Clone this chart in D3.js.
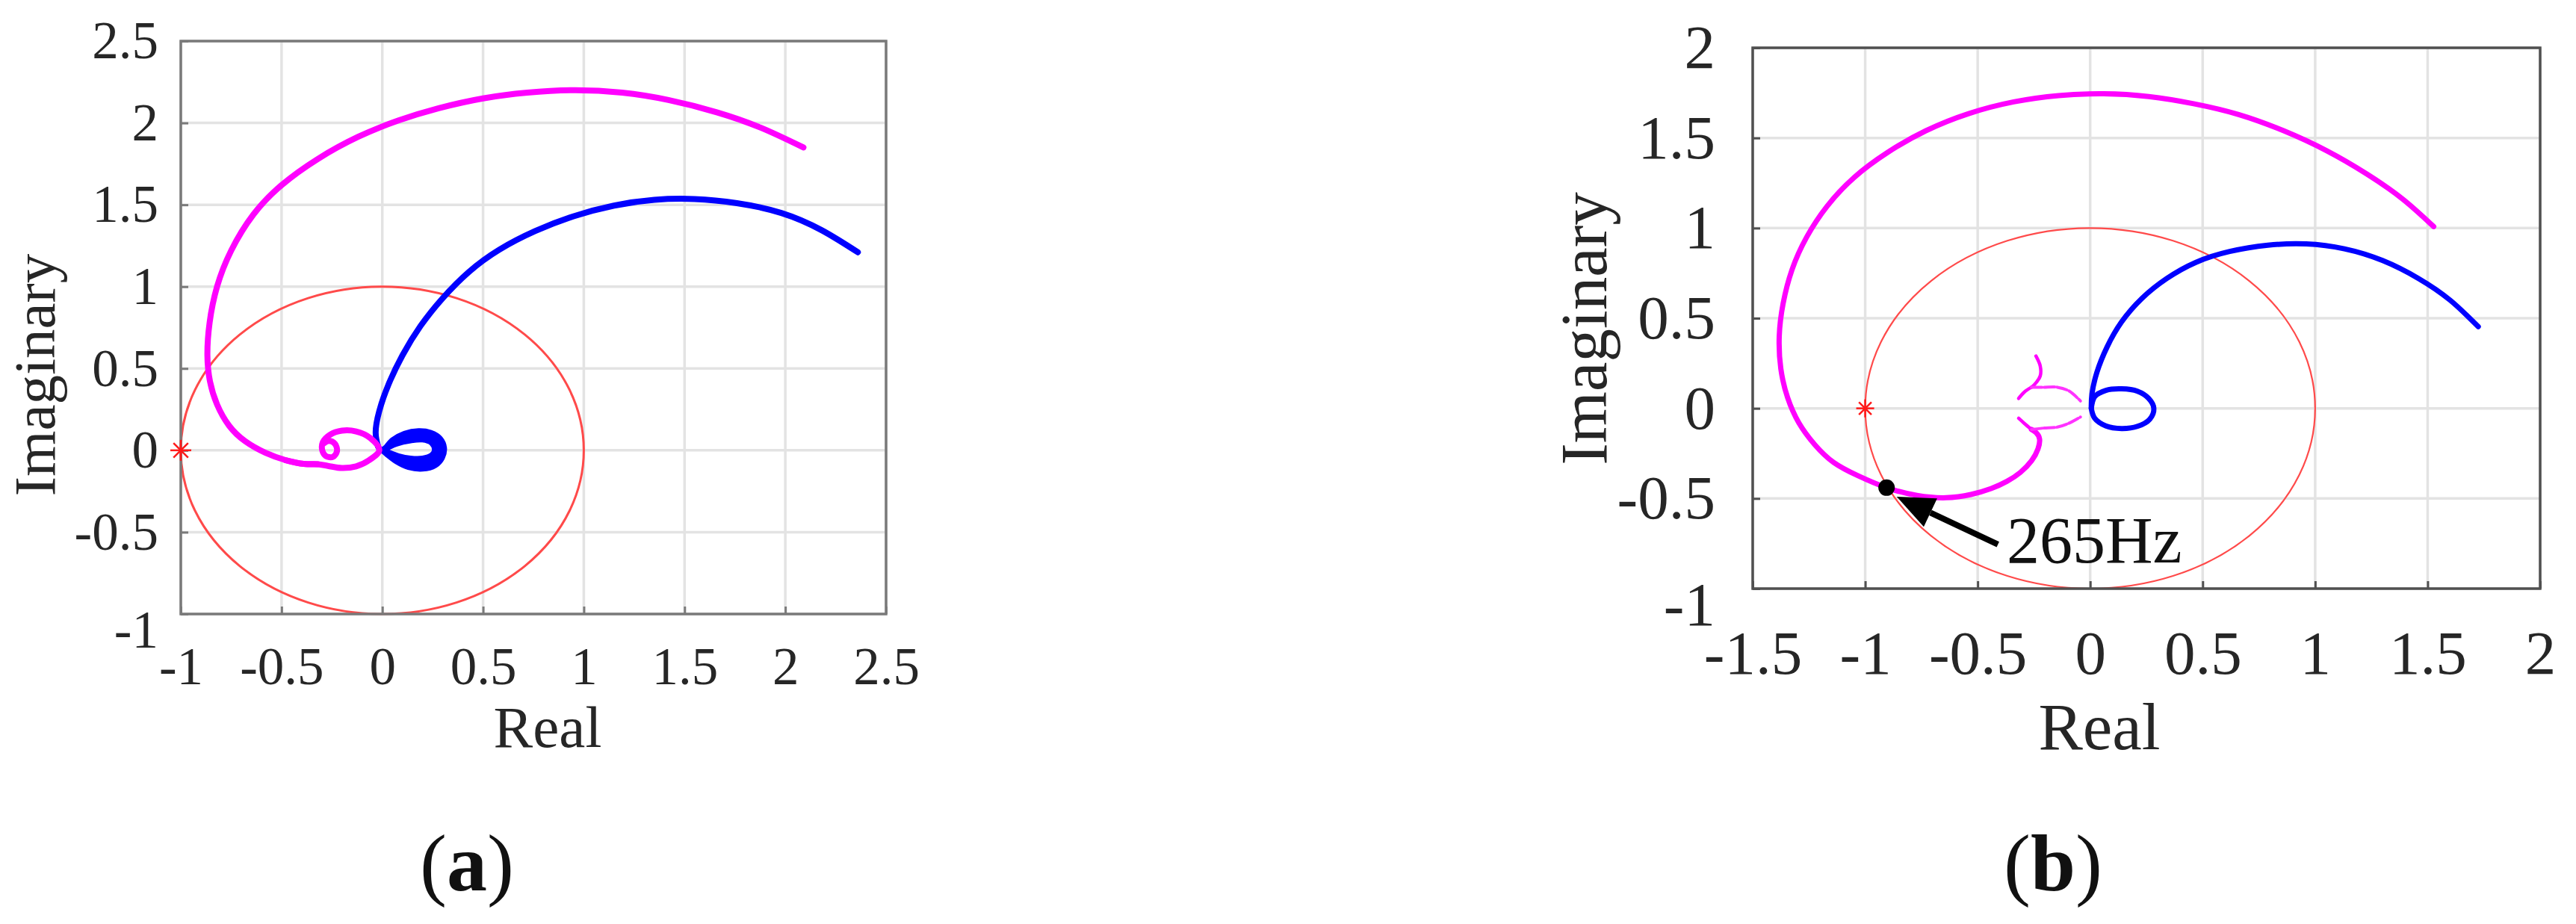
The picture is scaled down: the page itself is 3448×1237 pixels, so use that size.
<!DOCTYPE html>
<html><head><meta charset="utf-8">
<script src="https://cdn.jsdelivr.net/npm/d3@7"></script>
<style>html,body{margin:0;padding:0;background:#fff;}</style>
</head><body>
<svg id="chart" width="3448" height="1237" xmlns="http://www.w3.org/2000/svg"></svg>
<script>
// ---------------- DATA ----------------
const xTicksA = [-1, -0.5, 0, 0.5, 1, 1.5, 2, 2.5];
const yTicksA = [-1, -0.5, 0, 0.5, 1, 1.5, 2, 2.5];
const xTicksB = [-1.5, -1, -0.5, 0, 0.5, 1, 1.5, 2];
const yTicksB = [-1, -0.5, 0, 0.5, 1, 1.5, 2];
const axisTitleX = "Real";
const axisTitleY = "Imaginary";
const panelLabels = ["a", "b"];

// Panel (a) magenta locus [real, imag] — outer arc
const magentaA = [
  [2.09,1.85],[1.88,1.97],[1.66,2.065],[1.42,2.14],[1.19,2.185],[0.95,2.2],[0.72,2.185],
  [0.5,2.15],[0.28,2.09],[0.08,2.015],[-0.12,1.915],[-0.32,1.78],[-0.5,1.62],[-0.64,1.44],
  [-0.75,1.22],[-0.82,1.0],[-0.857,0.78],[-0.868,0.58],[-0.855,0.42],[-0.82,0.28],[-0.76,0.15],
  [-0.68,0.055],[-0.58,-0.015],[-0.48,-0.06],[-0.39,-0.083],[-0.32,-0.085]
];
// Panel (a) magenta inner loops
const magentaLoopA = [
  [-0.48,-0.06],[-0.39,-0.083],[-0.32,-0.085],[-0.27,-0.095],[-0.2,-0.108],[-0.13,-0.098],
  [-0.065,-0.06],[-0.015,0.0],[-0.06,0.075],[-0.13,0.115],[-0.2,0.12],[-0.26,0.095],[-0.295,0.05],
  [-0.298,0.0],[-0.28,-0.035],[-0.245,-0.04],[-0.225,-0.005],[-0.235,0.04],[-0.265,0.058],[-0.293,0.04]
];
// Panel (a) blue locus
const blueA = [
  [2.36,1.21],[2.18,1.345],[1.98,1.45],[1.76,1.51],[1.55,1.535],[1.35,1.53],[1.15,1.495],
  [0.95,1.43],[0.76,1.34],[0.58,1.225],[0.43,1.09],[0.3,0.93],[0.19,0.76],[0.1,0.58],
  [0.03,0.4],[-0.015,0.24],[-0.033,0.11],[-0.02,0.02]
];
const blueLoopsA = [
  [[-0.02,0.02],[0,0],[0.05,0.062],[0.11,0.102],[0.18,0.118],[0.24,0.108],[0.287,0.072],[0.307,0.015],[0.297,-0.045],
   [0.262,-0.092],[0.2,-0.113],[0.13,-0.103],[0.07,-0.068],[0.025,-0.027],[0,0]],
  [[0,0],[0.06,0.052],[0.12,0.088],[0.19,0.103],[0.247,0.088],[0.285,0.042],[0.293,-0.01],[0.277,-0.058],
   [0.237,-0.09],[0.18,-0.1],[0.12,-0.085],[0.06,-0.048],[0.02,-0.016],[0,0]],
  [[0,0],[0.06,0.045],[0.13,0.075],[0.2,0.085],[0.255,0.065],[0.28,0.015],[0.27,-0.035],
   [0.23,-0.068],[0.17,-0.075],[0.1,-0.055],[0.04,-0.022],[0,0]],
  [[0,0],[0.07,0.04],[0.14,0.06],[0.2,0.065],[0.245,0.045],[0.26,0.0],[0.245,-0.03],
   [0.2,-0.05],[0.14,-0.05],[0.08,-0.035],[0.03,-0.012],[0,0]]
];

// Panel (b) magenta locus
const magentaB = [
  [1.527,1.008],[1.39,1.16],[1.23,1.3],[1.05,1.43],[0.86,1.54],[0.66,1.63],[0.46,1.69],
  [0.26,1.73],[0.06,1.745],[-0.14,1.735],[-0.34,1.7],[-0.54,1.635],[-0.73,1.54],[-0.9,1.42],
  [-1.05,1.28],[-1.17,1.12],[-1.26,0.95],[-1.325,0.77],[-1.365,0.58],[-1.382,0.4],[-1.375,0.22],
  [-1.345,0.06],[-1.295,-0.08],[-1.225,-0.2],[-1.14,-0.3],[-1.03,-0.375],[-0.905,-0.44],
  [-0.77,-0.483],[-0.64,-0.496],[-0.53,-0.478],[-0.44,-0.445],[-0.37,-0.405],[-0.31,-0.355],
  [-0.26,-0.29],[-0.232,-0.225],[-0.225,-0.17],[-0.24,-0.135],[-0.261,-0.117]
];
const magentaBranchesB = [
  [[-0.261,-0.117],[-0.293,-0.083],[-0.318,-0.055]],
  [[-0.241,0.29],[-0.222,0.235],[-0.222,0.18],[-0.248,0.131],[-0.261,0.117]],
  [[-0.261,0.117],[-0.293,0.09],[-0.318,0.055]]
];
const magentaFaintB = [
  [[-0.261,-0.117],[-0.209,-0.11],[-0.146,-0.104],[-0.095,-0.083],[-0.043,-0.048]],
  [[-0.261,0.117],[-0.209,0.117],[-0.146,0.117],[-0.095,0.097],[-0.043,0.041]]
];
// Panel (b) blue locus
const blueB = [
  [1.725,0.453],[1.6,0.6],[1.46,0.72],[1.3,0.82],[1.13,0.885],[0.96,0.912],[0.79,0.905],
  [0.62,0.87],[0.47,0.81],[0.34,0.72],[0.23,0.61],[0.14,0.48],[0.075,0.34],[0.03,0.2],
  [0.008,0.08],[0.005,0.0]
];
const blueLoopB = [
  [0.005,0],[0.02,0.065],[0.07,0.1],[0.14,0.108],[0.21,0.095],[0.26,0.055],[0.283,0.0],
  [0.265,-0.06],[0.21,-0.1],[0.14,-0.112],[0.07,-0.098],[0.02,-0.055],[0.005,0]
];

const criticalPoint = [-1, 0];
const markerB = [-0.905, -0.44];
const arrowTailB = [-0.41, -0.755];
const arrowTipB = [-0.86, -0.49];
const annotationB = { text: "265Hz", at: [-0.371, -0.855] };

// ---------------- LAYOUT / STYLE ----------------
const svg = d3.select("#chart");
svg.append("rect").attr("width", 3448).attr("height", 1237).attr("fill", "#fff");
const FONT = "'Liberation Serif','Times New Roman',serif";
const TXT = "#262626";
const fmt = d => String(d);

function panel(cfg) {
  const x = d3.scaleLinear().domain(cfg.xDomain).range([cfg.left, cfg.right]);
  const y = d3.scaleLinear().domain(cfg.yDomain).range([cfg.bottom, cfg.top]);
  const g = svg.append("g");
  g.append("g").selectAll("line").data(cfg.xTicks).join("line")
    .attr("x1", d => x(d)).attr("x2", d => x(d)).attr("y1", cfg.top).attr("y2", cfg.bottom)
    .attr("stroke", "#e3e3e3").attr("stroke-width", 3.5);
  g.append("g").selectAll("line").data(cfg.yTicks).join("line")
    .attr("y1", d => y(d)).attr("y2", d => y(d)).attr("x1", cfg.left).attr("x2", cfg.right)
    .attr("stroke", "#e3e3e3").attr("stroke-width", 3.5);
  g.append("ellipse").attr("cx", x(0)).attr("cy", y(0))
    .attr("rx", x(1) - x(0)).attr("ry", y(0) - y(1))
    .attr("fill", "none").attr("stroke", "#ff4a4a").attr("stroke-width", cfg.circleW);
  return { x, y, g };
}

function frame(p, cfg) {
  const { x, y, g } = p;
  g.append("rect").attr("x", cfg.left).attr("y", cfg.top)
    .attr("width", cfg.right - cfg.left).attr("height", cfg.bottom - cfg.top)
    .attr("fill", "none").attr("stroke", cfg.boxColor).attr("stroke-width", 3.5);
  const ax = g.append("g").attr("transform", `translate(0,${cfg.bottom})`)
    .call(d3.axisBottom(x).tickValues(cfg.xTicks).tickFormat(fmt)
      .tickSizeInner(-10).tickSizeOuter(0).tickPadding(cfg.xPad));
  const ay = g.append("g").attr("transform", `translate(${cfg.left},0)`)
    .call(d3.axisLeft(y).tickValues(cfg.yTicks).tickFormat(fmt)
      .tickSizeInner(-10).tickSizeOuter(0).tickPadding(cfg.yPad));
  [ax, ay].forEach(a => {
    a.select(".domain").remove();
    a.attr("font-family", FONT).attr("font-size", cfg.tickFont);
    a.selectAll("line").attr("stroke", cfg.boxColor).attr("stroke-width", 3);
    a.selectAll("text").attr("fill", TXT);
  });
  ay.selectAll(".tick text").filter(d => d === cfg.yDomain[0]).attr("y", 22);

  g.append("text").text(axisTitleX).attr("x", cfg.realX).attr("y", cfg.realY)
    .attr("text-anchor", "middle").attr("font-family", FONT).attr("font-size", cfg.titleFont).attr("fill", TXT);
  g.append("text").text(axisTitleY)
    .attr("transform", `translate(${cfg.imagX},${cfg.imagY}) rotate(-90)`)
    .attr("text-anchor", "middle").attr("font-family", FONT).attr("font-size", cfg.titleFont).attr("fill", TXT);

  const t = g.append("text").attr("x", cfg.labelX).attr("y", 1192).attr("text-anchor", "middle")
    .attr("font-family", FONT).attr("font-size", 108).attr("fill", "#111");
  t.append("tspan").text("(");
  t.append("tspan").text(cfg.label).attr("font-weight", "bold");
  t.append("tspan").text(")");
}

function asterisk(p, pt, s) {
  const cx = p.x(pt[0]), cy = p.y(pt[1]);
  const gg = p.g.append("g").attr("stroke", "#ff1a1a").attr("stroke-width", 2.5);
  [[s,0],[0,s],[s*0.7,s*0.7],[s*0.7,-s*0.7]].forEach(([dx,dy]) =>
    gg.append("line").attr("x1", cx - dx).attr("y1", cy - dy).attr("x2", cx + dx).attr("y2", cy + dy));
}

function curve(p, pts, color, w, kind, extra) {
  const line = d3.line().x(d => p.x(d[0])).y(d => p.y(d[1]))
    .curve(kind === "natural" ? d3.curveNatural : d3.curveCatmullRom.alpha(0.5));
  const path = p.g.append("path").attr("d", line(pts)).attr("fill", "none")
    .attr("stroke", color).attr("stroke-width", w)
    .attr("stroke-linejoin", "round").attr("stroke-linecap", "round");
  if (extra) extra(path);
  return path;
}

// ---------- Panel (a) ----------
const cfgA = {
  xDomain: [-1, 2.5], yDomain: [-1, 2.5], xTicks: xTicksA, yTicks: yTicksA,
  left: 242, right: 1186, top: 55, bottom: 822,
  circleW: 3, boxColor: "#7a7a7a", tickFont: 71, xPad: 44, yPad: 30,
  titleFont: 79, realX: 733, realY: 1000, imagX: 73, imagY: 502,
  labelX: 625, label: panelLabels[0]
};
const pA = panel(cfgA);
curve(pA, blueA, "#0000ff", 8, "natural");
blueLoopsA.forEach(l => curve(pA, l, "#0000ff", 7.5));
curve(pA, magentaA, "#ff00ff", 8, "natural");
curve(pA, magentaLoopA, "#ff00ff", 8);
frame(pA, cfgA);
asterisk(pA, criticalPoint, 14);

// ---------- Panel (b) ----------
const cfgB = {
  xDomain: [-1.5, 2], yDomain: [-1, 2], xTicks: xTicksB, yTicks: yTicksB,
  left: 2346, right: 3400, top: 64, bottom: 788,
  circleW: 2.2, boxColor: "#505050", tickFont: 83, xPad: 55, yPad: 50,
  titleFont: 89, realX: 2810, realY: 1003, imagX: 2150, imagY: 440,
  labelX: 2748, label: panelLabels[1]
};
const pB = panel(cfgB);
curve(pB, blueB, "#0000ff", 7, "natural");
curve(pB, blueLoopB, "#0000ff", 7);
curve(pB, magentaB, "#ff00ff", 7, "natural");
magentaBranchesB.forEach(b => curve(pB, b, "#ff00ff", 4.5));
magentaFaintB.forEach(b => curve(pB, b, "#ff33ff", 4, null, s => s.attr("stroke-dasharray", "14 3")));
asterisk(pB, criticalPoint, 12);
frame(pB, cfgB);

pB.g.append("circle").attr("cx", pB.x(markerB[0])).attr("cy", pB.y(markerB[1])).attr("r", 11).attr("fill", "#000");
(function arrow() {
  const x1 = pB.x(arrowTailB[0]), y1 = pB.y(arrowTailB[1]);
  const x2 = pB.x(arrowTipB[0]), y2 = pB.y(arrowTipB[1]);
  const ang = Math.atan2(y2 - y1, x2 - x1);
  const L = 50, W = 21;
  const bx = x2 - L * Math.cos(ang), by = y2 - L * Math.sin(ang);
  pB.g.append("line").attr("x1", x1).attr("y1", y1).attr("x2", bx).attr("y2", by)
    .attr("stroke", "#000").attr("stroke-width", 8);
  const nx = -Math.sin(ang), ny = Math.cos(ang);
  pB.g.append("path").attr("d",
    `M${x2},${y2}L${bx + nx * W},${by + ny * W}L${bx - nx * W},${by - ny * W}Z`).attr("fill", "#000");
})();
pB.g.append("text").text(annotationB.text)
  .attr("x", pB.x(annotationB.at[0])).attr("y", pB.y(annotationB.at[1]))
  .attr("font-family", FONT).attr("font-size", 88).attr("fill", "#111");
</script>
</body></html>
